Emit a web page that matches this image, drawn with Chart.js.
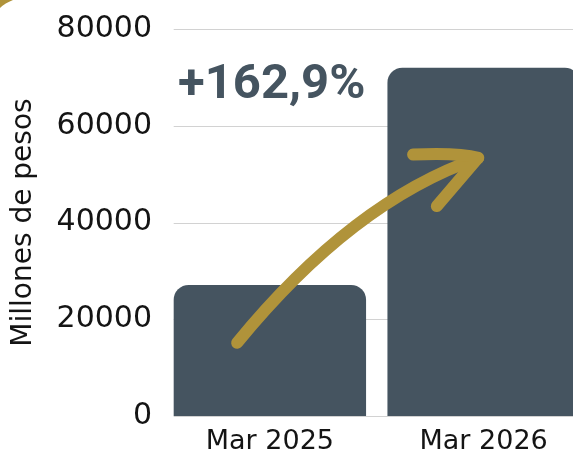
<!DOCTYPE html>
<html>
<head>
<meta charset="utf-8">
<script src="https://cdn.jsdelivr.net/npm/chart.js@4/dist/chart.umd.min.js"></script>
<style>
  html, body { margin: 0; padding: 0; background: #fff; overflow: hidden; }
  #wrap { width: 600px; height: 472px; }
</style>
</head>
<body>
<div id="wrap"><canvas id="chart" width="600" height="472"></canvas></div>
<script>
const categories = ['Mar 2025', 'Mar 2026']
const values = [27100, 72000]
const yTicks = [0, 20000, 40000, 60000, 80000]
const changeLabel = '+162,9%'
const yTitle = 'Millones de pesos'

const BAR = '#455460'
const GOLD = '#b0933a'

// grid lines start at the first bar's left edge, not at the axis
const gridPlugin = {
  id: 'grid',
  beforeDatasetsDraw(chart) {
    const { ctx, chartArea, scales: { y } } = chart
    const bar = chart.getDatasetMeta(0).data[0]
    const left = bar.x - bar.width / 2
    ctx.save()
    ctx.strokeStyle = '#d2d2d2'
    ctx.lineWidth = 1
    y.ticks.forEach(t => {
      const py = Math.round(y.getPixelForValue(t.value)) + 0.5
      ctx.beginPath()
      ctx.moveTo(left, py)
      ctx.lineTo(chartArea.right, py)
      ctx.stroke()
    })
    ctx.restore()
  }
}

// growth arrow, label and the corner ornament
const decorPlugin = {
  id: 'decor',
  afterDatasetsDraw(chart) {
    const { ctx, scales: { x, y } } = chart
    const P = (i, v) => [x.getPixelForValue(i), y.getPixelForValue(v)]

    ctx.save()
    ctx.strokeStyle = GOLD
    ctx.lineWidth = 12
    ctx.lineCap = 'round'
    ctx.lineJoin = 'round'

    const p0 = P(-0.153, 15150)
    const c = P(0.388, 44330)
    const p2 = P(0.974, 53300)
    ctx.beginPath()
    ctx.moveTo(...p0)
    ctx.quadraticCurveTo(...c, ...p2)
    ctx.stroke()

    const h1 = P(0.67, 54060)
    const tip = P(0.975, 53400)
    const h2 = P(0.781, 43400)
    ctx.beginPath()
    ctx.moveTo(...h1)
    ctx.quadraticCurveTo(tip[0] - 20, h1[1] - 2, ...tip)
    ctx.lineTo(...h2)
    ctx.stroke()

    ctx.fillStyle = BAR
    ctx.font = 'bold 49px Roboto'
    ctx.textBaseline = 'alphabetic'
    ctx.textAlign = 'left'
    const t = P(-0.43, 65800)
    ctx.fillText(changeLabel, t[0], t[1])

    ctx.fillStyle = GOLD
    ctx.beginPath()
    ctx.moveTo(0, 0)
    ctx.lineTo(13, 0)
    ctx.quadraticCurveTo(5, 3, 0, 8)
    ctx.closePath()
    ctx.fill()
    ctx.restore()
  }
}

new Chart(document.getElementById('chart'), {
  type: 'bar',
  data: {
    labels: categories,
    datasets: [{
      data: values,
      backgroundColor: BAR,
      borderRadius: { topLeft: 15, topRight: 15 },
      borderSkipped: 'start',
      barPercentage: 0.9,
      categoryPercentage: 1.0
    }]
  },
  options: {
    responsive: false,
    animation: false,
    layout: { padding: { top: 10, right: 9.5, bottom: 3.5, left: 0 } },
    plugins: {
      legend: { display: false },
      tooltip: { enabled: false }
    },
    scales: {
      x: {
        grid: { display: false, drawTicks: false },
        border: { display: false },
        ticks: {
          color: '#141414',
          padding: 10,
          font: { family: 'DejaVu Sans', size: 27 }
        }
      },
      y: {
        min: 0,
        max: 80000,
        afterBuildTicks: s => { s.ticks = yTicks.map(v => ({ value: v })) },
        afterFit: s => { s.width = 163 },
        grid: { display: false, drawTicks: false },
        border: { display: false },
        ticks: {
          color: '#141414',
          padding: 11,
          font: { family: 'DejaVu Sans', size: 30 },
          callback: v => String(v)
        },
        title: {
          display: true,
          text: yTitle,
          color: '#141414',
          padding: { top: 7, bottom: 0 },
          font: { family: 'DejaVu Sans', size: 28 }
        }
      }
    }
  },
  plugins: [gridPlugin, decorPlugin]
})
</script>
</body>
</html>
